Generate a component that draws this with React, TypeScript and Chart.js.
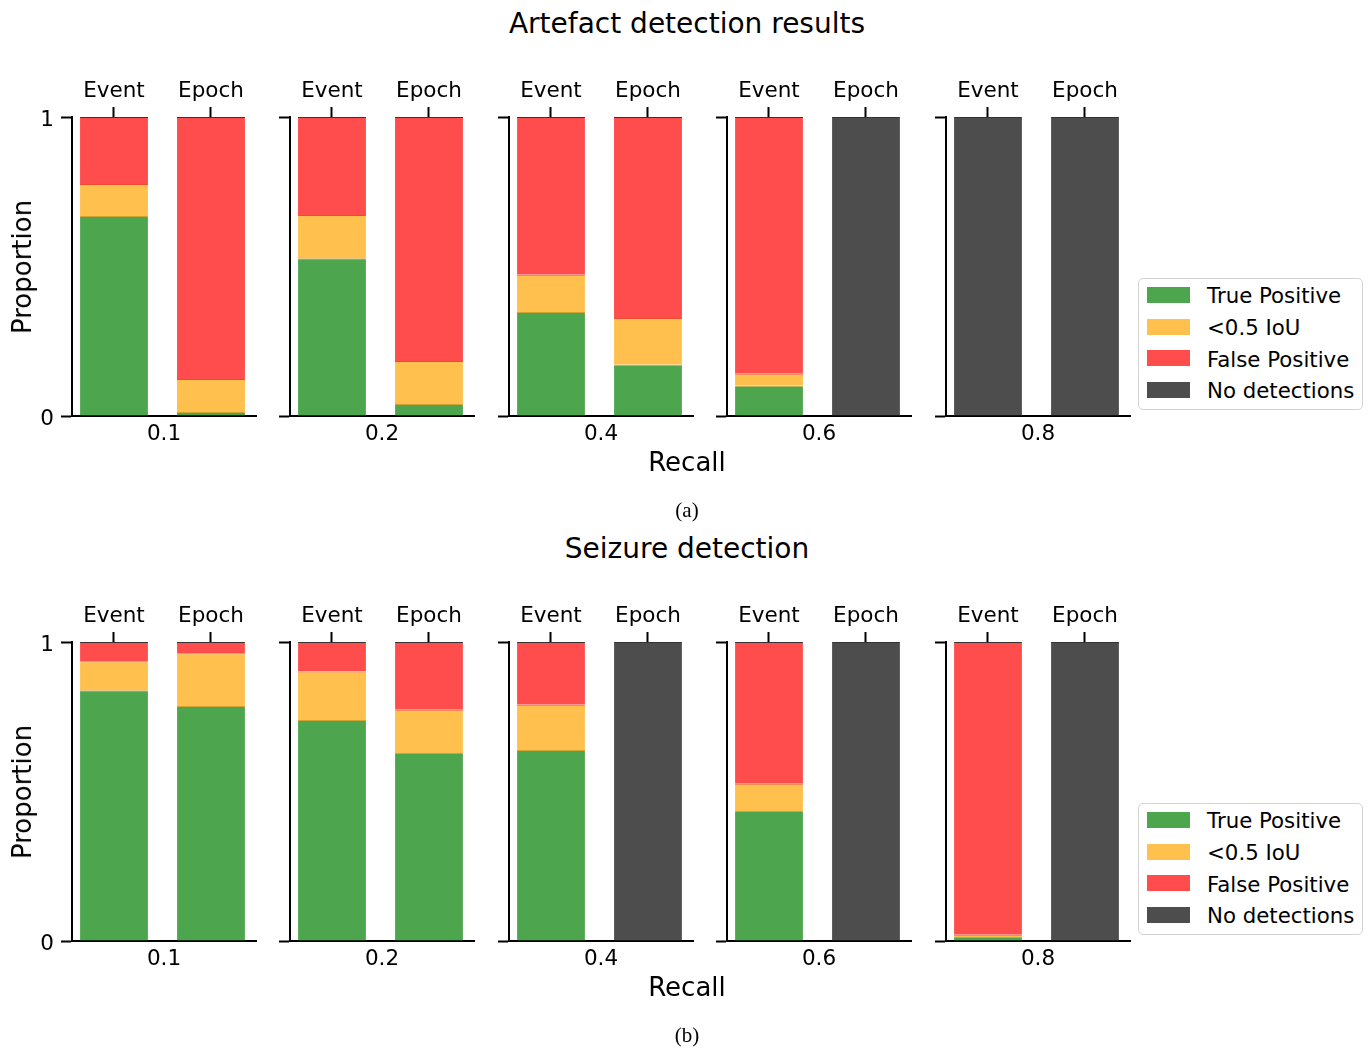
import React, { useEffect, useRef } from 'react';
import { Chart, registerables } from 'chart.js';

Chart.register(...registerables);

// ---------- data ----------
const recallLevels = ['0.1', '0.2', '0.4', '0.6', '0.8'];
const methods = ['Event', 'Epoch'];
const seriesNames = ['True Positive', '<0.5 IoU', 'False Positive', 'No detections'];
const seriesColors = ['#4da64d', '#ffc04d', '#ff4d4d', '#4d4d4d'];
const edgeColors = ['#d2a233', '#f24a2c', '#3a3030', '#333333'];

// [recall level][Event, Epoch]
const artefactTruePositive = [[0.669, 0.013], [0.528, 0.040], [0.348, 0.171], [0.101, 0], [0, 0]];
const artefactLowIoU = [[0.107, 0.111], [0.144, 0.144], [0.124, 0.157], [0.040, 0], [0, 0]];
const artefactFalsePositive = [[0.224, 0.876], [0.328, 0.816], [0.528, 0.672], [0.859, 0], [0, 0]];
const artefactNoDetections = [[0, 0], [0, 0], [0, 0], [0, 1], [1, 1]];

const seizureTruePositive = [[0.839, 0.786], [0.739, 0.629], [0.639, 0], [0.435, 0], [0.013, 0]];
const seizureLowIoU = [[0.097, 0.176], [0.162, 0.144], [0.151, 0], [0.091, 0], [0.008, 0]];
const seizureFalsePositive = [[0.064, 0.038], [0.099, 0.227], [0.210, 0], [0.474, 0], [0.979, 0]];
const seizureNoDetections = [[0, 0], [0, 0], [0, 1], [0, 1], [0, 1]];

const yTicks = [0, 1];

// ---------- layout ----------
const FONT = "'DejaVu Sans', sans-serif";
const SERIF = "'Liberation Serif', 'Times New Roman', serif";
const XMIN = -0.433;
const XMAX = 1.464;
const AXIS_LEFTS = [72, 290, 509, 727, 946];
const Y_AXIS_W = 60;
const TOP_AXIS_H = 60;
const BOTTOM_AXIS_H = 50;
const PLOT_W = 184;
const PLOT_H = 299;
const RIGHT_PAD = 6;
const CW = Y_AXIS_W + PLOT_W + RIGHT_PAD;
const CH = TOP_AXIS_H + PLOT_H + BOTTOM_AXIS_H;

type Grid = number[][];

function Subplot(props: {
  recallIndex: number;
  series: Grid[];
  left: number;
  top: number;
  showY: boolean;
}) {
  const ref = useRef<HTMLCanvasElement>(null);
  const { recallIndex, series, left, top, showY } = props;
  useEffect(() => {
    if (!ref.current) return;
    const datasets = seriesNames.map((name, s) => ({
      label: name,
      data: methods.map((_m, k) => ({ x: k, y: series[s][recallIndex][k] })),
      backgroundColor: seriesColors[s],
      borderColor: edgeColors[s],
      borderWidth: { top: 1, left: 0, right: 0, bottom: 0 },
      borderSkipped: 'start' as const,
      barPercentage: 0.7,
      categoryPercentage: 1,
      xAxisID: 'x',
      yAxisID: 'y',
    }));
    const tickFont = { family: FONT, size: 21.5 };
    const chart = new Chart(ref.current, {
      type: 'bar',
      data: { datasets: datasets as any },
      options: {
        responsive: false,
        maintainAspectRatio: false,
        animation: false,
        layout: { padding: { left: 0, right: RIGHT_PAD, top: 0, bottom: 0 } },
        plugins: { legend: { display: false }, tooltip: { enabled: false }, title: { display: false } },
        scales: {
          x: {
            type: 'linear',
            position: 'bottom',
            min: XMIN,
            max: XMAX,
            stacked: true,
            offset: false,
            afterBuildTicks: (s: any) => {
              s.ticks = [{ value: (XMIN + XMAX) / 2 }];
            },
            afterFit: (s: any) => {
              s.height = BOTTOM_AXIS_H;
            },
            ticks: {
              callback: () => recallLevels[recallIndex],
              font: tickFont,
              color: '#000',
              padding: 6,
              autoSkip: false,
              maxRotation: 0,
            },
            grid: { display: true, offset: false, drawOnChartArea: false, drawTicks: false },
            border: { display: true, color: '#000', width: 2 },
          },
          xTop: {
            type: 'linear',
            position: 'top',
            min: XMIN,
            max: XMAX,
            offset: false,
            afterBuildTicks: (s: any) => {
              s.ticks = methods.map((_m, k) => ({ value: k }));
            },
            afterFit: (s: any) => {
              s.height = TOP_AXIS_H;
            },
            ticks: {
              callback: (v: any) => methods[Math.round(Number(v))],
              font: tickFont,
              color: '#000',
              padding: 3,
              autoSkip: false,
              maxRotation: 0,
            },
            grid: {
              display: true,
              offset: false,
              drawOnChartArea: false,
              drawTicks: true,
              tickLength: 10,
              tickWidth: 2,
              tickColor: '#000',
            },
            border: { display: false },
          },
          y: {
            type: 'linear',
            position: 'left',
            min: 0,
            max: 1,
            stacked: true,
            afterBuildTicks: (s: any) => {
              s.ticks = yTicks.map((v) => ({ value: v }));
            },
            afterFit: (s: any) => {
              s.width = Y_AXIS_W;
            },
            ticks: {
              callback: (v: any) => (showY ? String(v) : ''),
              font: tickFont,
              color: '#000',
              padding: 7,
              labelOffset: 3,
            },
            grid: {
              display: true,
              offset: false,
              drawOnChartArea: false,
              drawTicks: true,
              tickLength: 11,
              tickWidth: 2,
              tickColor: '#000',
            },
            border: { display: true, color: '#000', width: 2 },
          },
        },
      } as any,
    });
    return () => chart.destroy();
  }, [recallIndex, series, showY]);
  return (
    <canvas
      ref={ref}
      width={CW}
      height={CH}
      style={{ position: 'absolute', left, top, width: CW, height: CH, display: 'block' }}
    />
  );
}

function Text(props: {
  x: number;
  baseline: number;
  size: number;
  family?: string;
  children: React.ReactNode;
  align?: 'center' | 'left';
}) {
  const { x, baseline, size, family = FONT, children, align = 'center' } = props;
  const ratio = family === SERIF ? 0.8375 : 0.846;
  return (
    <div
      style={{
        position: 'absolute',
        left: x,
        top: baseline - ratio * size,
        fontFamily: family,
        fontSize: size,
        lineHeight: `${size}px`,
        height: size,
        whiteSpace: 'nowrap',
        color: '#000',
        transform: align === 'center' ? 'translateX(-50%)' : undefined,
      }}
    >
      {children}
    </div>
  );
}

function Legend({ offset }: { offset: number }) {
  return (
    <>
      <div
        style={{
          position: 'absolute',
          left: 1138,
          top: 278 + offset,
          width: 225,
          height: 132,
          border: '1.5px solid #d4d4d4',
          borderRadius: 5,
          boxSizing: 'border-box',
          background: '#fff',
        }}
      />
      {seriesNames.map((name, i) => (
        <React.Fragment key={name}>
          <div
            style={{
              position: 'absolute',
              left: 1147,
              top: 287 + offset + 31.7 * i,
              width: 43,
              height: 16,
              background: seriesColors[i],
            }}
          />
          <Text x={1207} baseline={303.3 + offset + 31.7 * i} size={21.3} align="left">
            {name}
          </Text>
        </React.Fragment>
      ))}
    </>
  );
}

function Panel(props: { offset: number; title: string; caption: string; series: Grid[] }) {
  const { offset, title, caption, series } = props;
  return (
    <>
      <Text x={687} baseline={33.3 + offset} size={28}>
        {title}
      </Text>
      {recallLevels.map((_r, i) => (
        <Subplot
          key={i}
          recallIndex={i}
          series={series}
          left={AXIS_LEFTS[i] - Y_AXIS_W}
          top={117 + offset - TOP_AXIS_H}
          showY={i === 0}
        />
      ))}
      <div
        style={{
          position: 'absolute',
          left: 22.4,
          top: 266.7 + offset,
          fontFamily: FONT,
          fontSize: 26,
          lineHeight: '26px',
          whiteSpace: 'nowrap',
          transform: 'translate(-50%, -50%) rotate(-90deg)',
        }}
      >
        Proportion
      </div>
      <Text x={687} baseline={471 + offset} size={26}>
        Recall
      </Text>
      <Text x={687} baseline={518 + offset} size={21} family={SERIF}>
        {caption}
      </Text>
      <Legend offset={offset} />
    </>
  );
}

const artefactSeries = [artefactTruePositive, artefactLowIoU, artefactFalsePositive, artefactNoDetections];
const seizureSeries = [seizureTruePositive, seizureLowIoU, seizureFalsePositive, seizureNoDetections];

export default function App() {
  return (
    <div
      style={{
        position: 'absolute',
        left: 0,
        top: 0,
        width: 1372,
        height: 1051,
        background: '#fff',
        overflow: 'hidden',
      }}
    >
      <Panel offset={0} title="Artefact detection results" caption="(a)" series={artefactSeries} />
      <Panel offset={525} title="Seizure detection" caption="(b)" series={seizureSeries} />
    </div>
  );
}
